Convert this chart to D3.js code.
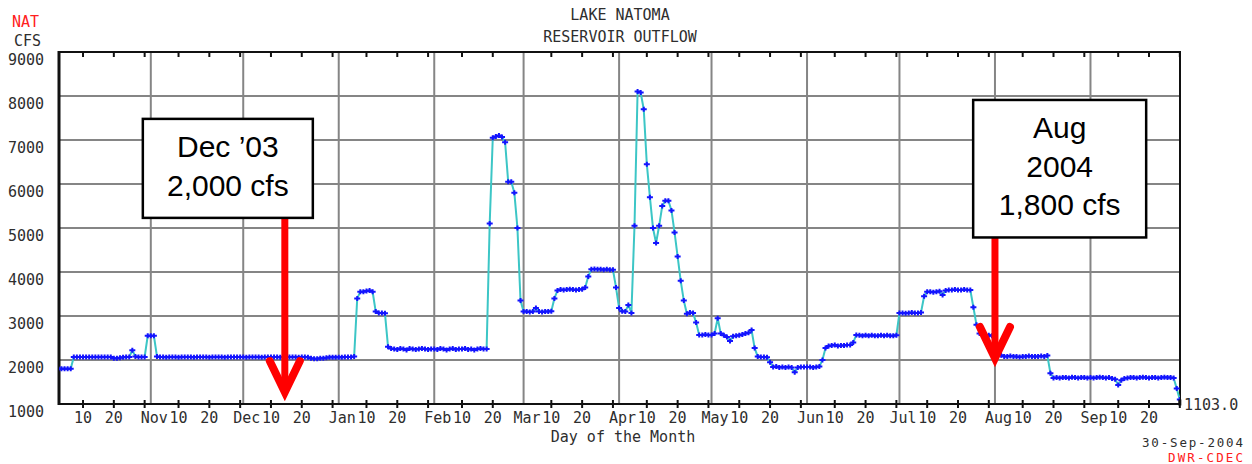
<!DOCTYPE html>
<html>
<head>
<meta charset="utf-8">
<script src="https://cdnjs.cloudflare.com/ajax/libs/d3/7.8.5/d3.min.js"></script>
<style>
  body { margin: 0; background: #fff; }
  svg { display: block; }
  .mono { font-family: "DejaVu Sans Mono", "Liberation Mono", monospace; font-size: 15px; fill: #2e2e2e; }
  .note { font-family: "Liberation Sans", Arial, sans-serif; font-size: 30px; fill: #000; }
</style>
</head>
<body>
<div id="chart"></div>
<script>
// daily outflow, cfs (Oct 2003 .. Sep 2004), one array per month
var oct = [1800,1800,1800,1800,1800,1800,2070,2070,2070,2070,2070,2070,2070,2070,2070,2070,2070,2070,2070,2040,2040,2050,2060,2070,2070,2220,2080,2070,2070,2070,2550];
var nov = [2550,2550,2080,2070,2070,2060,2070,2070,2070,2060,2070,2070,2070,2070,2060,2070,2070,2070,2070,2060,2070,2070,2070,2070,2060,2070,2070,2070,2070,2070];
var dec = [2070,2060,2070,2070,2070,2070,2060,2070,2070,2070,2070,2070,2060,2070,2070,2070,2070,2070,2060,2070,2070,2060,2040,2030,2030,2040,2040,2050,2060,2060,2060];
var jan = [2060,2060,2070,2070,2070,2080,3400,3550,3550,3570,3580,3550,3100,3070,3070,3060,2300,2260,2250,2240,2260,2250,2230,2260,2250,2240,2250,2260,2250,2240,2250];
var feb = [2250,2240,2260,2250,2230,2250,2260,2240,2250,2250,2260,2240,2250,2230,2250,2260,2250,2250,5100,7050,7080,7100,7070,6950,6050,6050,5800,5000,3350];
var mar = [3100,3100,3090,3100,3180,3100,3090,3100,3100,3110,3400,3580,3600,3590,3600,3610,3600,3590,3600,3610,3650,3900,4060,4070,4060,4060,4050,4060,4050,4050,3650];
var apr = [3180,3110,3100,3250,3070,5050,8100,8080,7700,6450,5700,5000,4660,5050,5500,5620,5620,5400,4900,4350,3800,3350,3050,3080,3070,2850,2570,2570,2580,2570];
var may = [2570,2600,2950,2600,2560,2520,2430,2540,2550,2560,2580,2600,2620,2680,2270,2080,2070,2070,2060,1950,1840,1850,1830,1840,1830,1840,1830,1720,1830,1840,1840];
var jun = [1840,1840,1830,1840,1850,2000,2270,2320,2330,2340,2320,2330,2330,2340,2340,2400,2570,2560,2550,2560,2550,2560,2550,2550,2560,2550,2560,2550,2550,2560];
var jul = [3070,3070,3060,3070,3080,3070,3070,3080,3450,3550,3550,3540,3550,3560,3480,3580,3590,3590,3600,3590,3590,3600,3590,3590,3200,2800,2600,2570,2560,2560,2550];
var aug = [2450,2200,2110,2080,2080,2090,2080,2080,2070,2080,2080,2090,2080,2080,2080,2090,2080,2100,1700,1590,1600,1590,1600,1600,1590,1610,1600,1590,1600,1600,1590];
var sep = [1600,1590,1600,1610,1600,1590,1600,1580,1560,1430,1540,1580,1590,1600,1600,1590,1600,1610,1600,1590,1600,1600,1590,1600,1610,1600,1600,1590,1350,1103];

var monthNames = ["Oct","Nov","Dec","Jan","Feb","Mar","Apr","May","Jun","Jul","Aug","Sep"];
var yTicks = [1000,2000,3000,4000,5000,6000,7000,8000,9000];
var dayTicks = [10,20,30];
var dayLabels = [10,20];

// annotation callouts: text, arrow tip (date, cfs), box centre date + box top cfs
var noteText = [["Dec \u201903","2,000 cfs"], ["Aug","2004","1,800 cfs"]];
var noteTip = [[Date.UTC(2003,11,14,12), 1270], [Date.UTC(2004,7,1), 2045]];
var noteBox = [[Date.UTC(2003,10,26), 7480], [Date.UTC(2004,7,22), 7910]];

(function(){

  var W = 1252, H = 464;
  var left = 59, right = 1180, top = 52, bottom = 404;

  var months = [oct,nov,dec,jan,feb,mar,apr,may,jun,jul,aug,sep];
  var data = [];
  months.forEach(function(arr, i){
    var yr = i < 3 ? 2003 : 2004;
    var mo = (9 + i) % 12;
    arr.forEach(function(v, d){
      data.push({ t: new Date(Date.UTC(yr, mo, d + 1)), v: v });
    });
  });

  var x = d3.scaleUtc()
    .domain([new Date(Date.UTC(2003,9,1)), new Date(Date.UTC(2004,9,1))])
    .range([55.3, 1182.9]);
  var y = d3.scaleLinear().domain([1000, 9000]).range([bottom, top]);

  var svg = d3.select("#chart").append("svg")
    .attr("width", W).attr("height", H);

  svg.append("defs").append("clipPath").attr("id", "plot")
    .append("rect")
    .attr("x", left).attr("y", top - 4)
    .attr("width", right - left).attr("height", bottom - top + 8);

  // grid
  var monthStarts = months.map(function(a, i){
    return new Date(Date.UTC(i < 3 ? 2003 : 2004, (9 + i) % 12, 1));
  }).slice(1);

  svg.append("g").selectAll("line").data(yTicks.slice(1, -1))
    .enter().append("line")
    .attr("x1", left).attr("x2", right)
    .attr("y1", function(d){ return y(d); })
    .attr("y2", function(d){ return y(d); })
    .style("stroke", "#858585").style("stroke-width", 2);

  svg.append("g").selectAll("line").data(monthStarts)
    .enter().append("line")
    .attr("x1", function(d){ return x(d); })
    .attr("x2", function(d){ return x(d); })
    .attr("y1", top).attr("y2", bottom)
    .style("stroke", "#858585").style("stroke-width", 2);

  // frame
  svg.append("rect")
    .attr("x", left).attr("y", top)
    .attr("width", right - left).attr("height", bottom - top)
    .style("fill", "none").style("stroke", "#111").style("stroke-width", 2);
  svg.append("line")
    .attr("x1", left).attr("x2", left).attr("y1", top - 1).attr("y2", bottom + 1)
    .style("stroke", "#111").style("stroke-width", 3);

  // 10/20/30 ticks top and bottom
  var tickDates = [];
  months.forEach(function(arr, i){
    dayTicks.forEach(function(d){
      if (d <= arr.length) tickDates.push(new Date(Date.UTC(i < 3 ? 2003 : 2004, (9 + i) % 12, d)));
    });
  });
  var tk = svg.append("g").selectAll("g").data(tickDates).enter().append("g");
  tk.append("line")
    .attr("x1", function(d){ return x(d); }).attr("x2", function(d){ return x(d); })
    .attr("y1", bottom - 4).attr("y2", bottom + 4)
    .style("stroke", "#111").style("stroke-width", 2);
  tk.append("line")
    .attr("x1", function(d){ return x(d); }).attr("x2", function(d){ return x(d); })
    .attr("y1", top).attr("y2", top + 5)
    .style("stroke", "#111").style("stroke-width", 2);

  // x labels
  var labelDates = tickDates.filter(function(d){ return dayLabels.indexOf(d.getUTCDate()) >= 0; });
  svg.append("g").selectAll("text").data(labelDates)
    .enter().append("text")
    .attr("class", "mono")
    .attr("x", function(d){ return x(d); })
    .attr("y", bottom + 19)
    .attr("text-anchor", "middle")
    .text(function(d){ return d.getUTCDate(); });

  svg.append("g").selectAll("text").data(monthStarts)
    .enter().append("text")
    .attr("class", "mono")
    .attr("x", function(d){ return x(d) + 3.5; })
    .attr("y", bottom + 19)
    .attr("text-anchor", "middle")
    .text(function(d, i){ return monthNames[i + 1]; });

  svg.append("text").attr("class", "mono")
    .attr("x", 623).attr("y", 442).attr("text-anchor", "middle")
    .text("Day of the Month");

  // y labels
  svg.append("g").selectAll("text").data(yTicks)
    .enter().append("text")
    .attr("class", "mono")
    .attr("x", 44)
    .attr("y", function(d){ return y(d) + 13; })
    .attr("text-anchor", "end")
    .text(function(d){ return d; });

  svg.append("text").attr("class", "mono").attr("x", 12).attr("y", 27)
    .style("fill", "#ff2020").text("NAT");
  svg.append("text").attr("class", "mono").attr("x", 14).attr("y", 46).text("CFS");

  svg.append("text").attr("class", "mono")
    .attr("x", 620).attr("y", 20).attr("text-anchor", "middle").text("LAKE NATOMA");
  svg.append("text").attr("class", "mono")
    .attr("x", 620).attr("y", 42).attr("text-anchor", "middle").text("RESERVOIR OUTFLOW");

  // series
  var plot = svg.append("g").attr("clip-path", "url(#plot)");
  var line = d3.line()
    .x(function(d){ return x(d.t); })
    .y(function(d){ return y(d.v); });

  plot.append("path").datum(data)
    .attr("d", line)
    .style("fill", "none")
    .style("stroke", "#3cc6c6")
    .style("stroke-width", 2);

  plot.selectAll("path.pt").data(data)
    .enter().append("path")
    .attr("class", "pt")
    .attr("transform", function(d){ return "translate(" + x(d.t) + "," + y(d.v) + ")"; })
    .attr("d", "M-3,0H3M0,-2.5V2.5")
    .style("stroke", "#1414ff")
    .style("stroke-width", 2);

  // last value
  var last = data[data.length - 1];
  svg.append("line")
    .attr("x1", x(last.t)).attr("x2", x(last.t))
    .attr("y1", y(last.v)).attr("y2", y(last.v) + 6)
    .style("stroke", "#111").style("stroke-width", 3);
  svg.append("text").attr("class", "mono")
    .attr("x", 1184).attr("y", 410).text(d3.format(".1f")(last.v));

  svg.append("text").attr("class", "mono")
    .attr("x", 1243).attr("y", 447).attr("text-anchor", "end")
    .style("font-size", "12.5px")
    .attr("textLength", 101).attr("lengthAdjust", "spacing")
    .text("30-Sep-2004");
  svg.append("text").attr("class", "mono")
    .attr("x", 1243).attr("y", 462).attr("text-anchor", "end")
    .style("font-size", "12.5px").style("fill", "#ff2020")
    .attr("textLength", 75).attr("lengthAdjust", "spacing")
    .text("DWR-CDEC");

  // callouts
  var boxW = [170, 173];
  noteText.forEach(function(lines, i){
    var tx = x(new Date(noteTip[i][0])), ty = y(noteTip[i][1]);
    var cx = x(new Date(noteBox[i][0])), by = y(noteBox[i][1]);
    var bh = lines.length * 38.5 + 22;
    var g = svg.append("g");

    g.append("line")
      .attr("x1", tx).attr("x2", tx)
      .attr("y1", by + bh).attr("y2", ty - 4)
      .style("stroke", "#ff0000").style("stroke-width", 7);
    g.append("path")
      .attr("d", "M" + (tx - 15) + "," + (ty - 31) + "L" + tx + "," + ty + "L" + (tx + 15) + "," + (ty - 31))
      .style("fill", "none")
      .style("stroke", "#ff0000")
      .style("stroke-width", 8)
      .style("stroke-linecap", "round")
      .style("stroke-linejoin", "miter");

    g.append("rect")
      .attr("x", cx - boxW[i] / 2).attr("y", by)
      .attr("width", boxW[i]).attr("height", bh)
      .style("fill", "#fff").style("stroke", "#000").style("stroke-width", 2.5);

    g.selectAll("text").data(lines).enter().append("text")
      .attr("class", "note")
      .attr("x", cx)
      .attr("y", function(d, j){ return by + 38.5 * (j + 1); })
      .attr("text-anchor", "middle")
      .text(function(d){ return d; });
  });

})();
</script>
</body>
</html>
